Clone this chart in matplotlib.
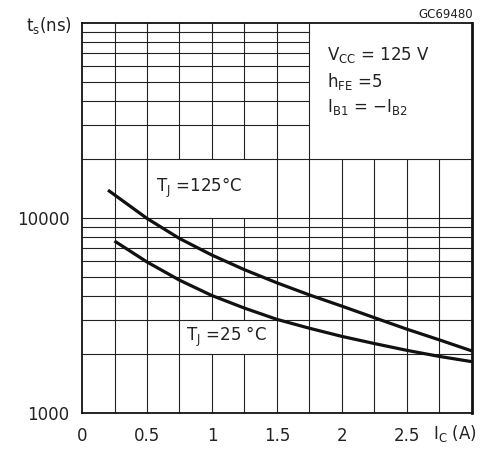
import matplotlib
matplotlib.use('Agg')
import matplotlib.pyplot as plt

# Storage time vs collector current
ic_125 = [0.2, 0.5, 0.75, 1.0, 1.25, 1.5, 1.75, 2.0, 2.25, 2.5, 2.75, 3.0]
ts_125 = [13900, 9950, 7850, 6450, 5430, 4650, 4030, 3530, 3080, 2690, 2370, 2080]

ic_25 = [0.25, 0.5, 0.75, 1.0, 1.25, 1.5, 1.75, 2.0, 2.25, 2.5, 2.75, 3.0]
ts_25 = [7620, 5950, 4800, 4000, 3450, 3020, 2720, 2470, 2270, 2095, 1950, 1833]

x_ticks = [0, 0.5, 1, 1.5, 2, 2.5]
x_tick_labels = ['0', '0.5', '1', '1.5', '2', '2.5']
y_ticks = [1000, 10000]
y_tick_labels = ['1000', '10000']

plt.rcParams['font.family'] = ['DejaVu Sans']

fig = plt.figure(figsize=(4.87, 4.49), dpi=100)
ax = fig.add_axes([82 / 487, 1 - 413 / 449, 390 / 487, 390 / 449])
ax.set_yscale('log')
ax.set_xlim(0, 3)
ax.set_ylim(1000, 100000)

# grid drawn by hand so the label areas stay clear
v_grid = [0.25 * k for k in range(1, 12)]
h_grid = [m * d for d in (1000, 10000) for m in range(2, 10)] + [10000]
# (x0, x1, y0, y1) areas without grid lines
blank = [(1.75, 3.0, 20000, 100000), (0.5, 1.5, 10000, 20000), (0.75, 1.5, 2000, 3000)]


def cut(pos, lo, hi, vertical):
    parts = [(lo, hi)]
    for x0, x1, y0, y1 in blank:
        a0, a1, b0, b1 = (x0, x1, y0, y1) if vertical else (y0, y1, x0, x1)
        if not (a0 < pos < a1):
            continue
        new = []
        for s, e in parts:
            if b1 <= s or b0 >= e:
                new.append((s, e))
                continue
            if s < b0:
                new.append((s, b0))
            if e > b1:
                new.append((b1, e))
        parts = new
    return parts


grid_kw = dict(color='#222222', lw=0.8, zorder=1)
for x in v_grid:
    for s, e in cut(x, 1000, 100000, True):
        ax.vlines(x, s, e, **grid_kw)
for y in h_grid:
    for s, e in cut(y, 0, 3, False):
        ax.hlines(y, s, e, **grid_kw)

ax.plot(ic_125, ts_125, color='#111111', lw=2.3, zorder=3, solid_capstyle='butt')
ax.plot(ic_25, ts_25, color='#111111', lw=2.3, zorder=3, solid_capstyle='butt')

ax.set_xticks(x_ticks)
ax.set_xticklabels(x_tick_labels)
ax.set_yticks(y_ticks)
ax.set_yticklabels(y_tick_labels)
ax.minorticks_off()
ax.tick_params(axis='x', length=0, pad=10, labelsize=12, colors='#222222')
ax.tick_params(axis='y', length=0, pad=9, labelsize=12, colors='#222222')
for sp in ax.spines.values():
    sp.set_linewidth(1.3)
    sp.set_color('#111111')
ax.spines['right'].set_linewidth(2.0)

fig.text(72 / 487, 1 - 25 / 449, r't$_\mathrm{s}$(ns)', ha='right', va='center', fontsize=12, color='#222222')
fig.text(473 / 487, 1 - 14 / 449, 'GC69480', ha='right', va='center', fontsize=8.5, color='#222222')
fig.text(433 / 487, 1 - 433 / 449, r'I$_\mathrm{C}$ (A)', ha='left', va='center', fontsize=12, color='#222222')

fig.text(327 / 487, 1 - 55 / 449, r'V$_\mathrm{CC}$ = 125 V', ha='left', va='center', fontsize=12, color='#222222')
fig.text(327 / 487, 1 - 82 / 449, r'h$_\mathrm{FE}$ =5', ha='left', va='center', fontsize=12, color='#222222')
fig.text(327 / 487, 1 - 107 / 449, r'I$_\mathrm{B1}$ = $-$I$_\mathrm{B2}$', ha='left', va='center', fontsize=12, color='#222222')

fig.text(156 / 487, 1 - 188 / 449, r'T$_\mathrm{J}$ =125$\degree$C', ha='left', va='center', fontsize=12, color='#222222')
fig.text(186 / 487, 1 - 337 / 449, r'T$_\mathrm{J}$ =25 $\degree$C', ha='left', va='center', fontsize=12, color='#222222')

fig.savefig('out.png', dpi=100)
